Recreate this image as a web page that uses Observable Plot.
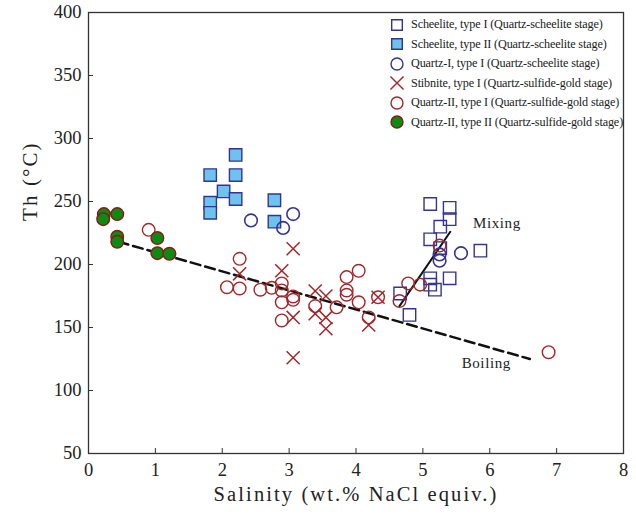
<!DOCTYPE html>
<html>
<head>
<meta charset="utf-8">
<script src="https://cdn.jsdelivr.net/npm/d3@7"></script>
<script src="https://cdn.jsdelivr.net/npm/@observablehq/plot@0.6"></script>
<style>
  body { margin: 0; background: #fff; }
  #wrap { position: relative; width: 636px; height: 514px; background: #fff; }
  #wrap svg, #wrap svg text { font-family: "Liberation Serif", "Times New Roman", serif !important; }
  #legend { position: absolute; left: 390px; top: 15px; font-family: "Liberation Serif", serif; font-size: 12.2px; letter-spacing: -0.15px; color: #222; }
  #legend .row { height: 19.5px; display: flex; align-items: center; white-space: nowrap; }
  #legend svg { margin-right: 7px; overflow: visible; }
  .lbl { letter-spacing: 2.1px; }
  .ann { letter-spacing: 0.6px; }
</style>
</head>
<body>
<div id="wrap"></div>
<script>
// ---- data (salinity wt.% NaCl equiv., Th °C) ----
const scheeliteI = [[5.11,248],[5.40,245],[5.40,236],[5.26,230],[5.11,220],[5.26,213],[5.86,211],[5.40,189],[5.11,189],[5.11,184],[5.18,180],[4.66,177],[4.80,160]];
const scheeliteII = [[2.20,287],[1.82,271],[2.20,271],[2.02,258],[2.20,252],[1.82,249],[1.82,241],[2.78,251],[2.78,234]];
const quartzI = [[2.43,235],[2.91,229],[3.06,240],[5.57,209],[5.25,208],[5.25,203]];
const stibnite = [[3.06,212.5],[2.89,195],[2.26,192.6],[3.06,158],[3.06,126],[3.39,179],[3.55,175],[3.39,161],[3.55,158],[3.55,149],[4.19,152],[4.33,174]];
const quartzIIa = [[0.90,227.5],[2.26,204.5],[2.07,182],[2.26,181],[2.57,180],[2.74,181.5],[2.89,185],[2.89,179.4],[2.89,170],[2.89,155.6],[3.06,174.6],[3.06,172],[3.39,167],[3.71,166],[3.86,190],[4.04,195],[3.86,179.4],[3.86,176],[4.04,170],[4.19,158],[4.33,174],[4.78,185],[4.96,184],[4.65,171],[5.25,215],[6.88,130.4]];
const quartzIIb = [[0.23,240],[0.22,236],[0.43,240],[0.43,222],[0.43,218],[1.03,221],[1.03,209],[1.21,208.5]];
const mixingLine = [[4.65,167],[5.41,226]];
const boilingLine = [[0.45,218],[6.6,125]];
const annotations = [{x:5.75, y:233, text:"Mixing"},{x:5.58, y:122, text:"Boiling"}];
const xTicks = [0,1,2,3,4,5,6,7,8];
const yTicks = [50,100,150,200,250,300,350,400];
const xLabel = "Salinity (wt.% NaCl equiv.)";
const yLabel = "Th (°C)";
const legendLabels = [
  "Scheelite, type I (Quartz-scheelite stage)",
  "Scheelite, type II (Quartz-scheelite stage)",
  "Quartz-I, type I (Quartz-scheelite stage)",
  "Stibnite, type I (Quartz-sulfide-gold stage)",
  "Quartz-II, type I (Quartz-sulfide-gold stage)",
  "Quartz-II, type II (Quartz-sulfide-gold stage)"
];

const BLUE = "#35358f", LIGHT = "#6ec3ee", RED = "#a3262a", GREEN = "#0d8a12";

const chart = Plot.plot({
  width: 636, height: 514,
  marginLeft: 88, marginRight: 13, marginTop: 12, marginBottom: 61,
  style: { fontFamily: "'Liberation Serif', serif", fontSize: "18.5px", color: "#222", background: "#fff" },
  x: { domain: [0, 8] },
  y: { domain: [50, 400] },
  marks: [
    Plot.axisX({ ticks: xTicks, tickSize: -5, tickPadding: 14, tickFormat: d => d, label: null, stroke: "#333" }),
    Plot.axisY({ ticks: yTicks, tickSize: -5, tickPadding: 12, tickFormat: d => d, label: null, stroke: "#333" }),
    Plot.text([xLabel], { text: d => d, frameAnchor: "bottom", dy: 47, fontSize: 20.5, fill: "#222", className: "lbl" }),
    Plot.text([yLabel], { text: d => d, frameAnchor: "left", dx: -58, dy: -12, rotate: -90, fontSize: 21, fill: "#222", className: "lbl" }),
    Plot.line(boilingLine, { x: d => d[0], y: d => d[1], stroke: "#111", strokeWidth: 2.5, strokeDasharray: "10,5" }),
    Plot.line(mixingLine, { x: d => d[0], y: d => d[1], stroke: "#111", strokeWidth: 2 }),
    Plot.dot(scheeliteI, { x: d => d[0], y: d => d[1], symbol: "square", r: 7, stroke: BLUE, strokeWidth: 1.4, fill: "none" }),
    Plot.dot(scheeliteII, { x: d => d[0], y: d => d[1], symbol: "square", r: 7, stroke: BLUE, strokeWidth: 1.4, fill: LIGHT }),
    Plot.dot(quartzI, { x: d => d[0], y: d => d[1], symbol: "circle", r: 6.3, stroke: BLUE, strokeWidth: 1.6, fill: "none" }),
    Plot.dot(stibnite, { x: d => d[0], y: d => d[1], symbol: "times", r: 6, stroke: RED, strokeWidth: 1.5 }),
    Plot.dot(quartzIIa, { x: d => d[0], y: d => d[1], symbol: "circle", r: 6.3, stroke: RED, strokeWidth: 1.4, fill: "none" }),
    Plot.dot(quartzIIb, { x: d => d[0], y: d => d[1], symbol: "circle", r: 6.3, stroke: "#8a1a1a", strokeWidth: 1.4, fill: GREEN }),
    Plot.text(annotations, { x: "x", y: "y", text: "text", textAnchor: "start", fontSize: 15, fill: "#222", className: "ann" }),
    Plot.frame({ stroke: "#333", strokeWidth: 1.3 })
  ]
});

const wrap = document.getElementById("wrap");
wrap.appendChild(chart);

// legend overlay (inside plot area, top right)
const symbols = [
  { sym: "square", stroke: BLUE, fill: "none" },
  { sym: "square", stroke: BLUE, fill: LIGHT },
  { sym: "circle", stroke: BLUE, fill: "none" },
  { sym: "times", stroke: RED, fill: "none" },
  { sym: "circle", stroke: RED, fill: "none" },
  { sym: "circle", stroke: "#8a1a1a", fill: GREEN }
];
const legend = document.createElement("div");
legend.id = "legend";
legendLabels.forEach((lab, i) => {
  const row = document.createElement("div");
  row.className = "row";
  const s = symbols[i];
  const map = { square: d3.symbolSquare, circle: d3.symbolCircle, times: d3.symbolTimes };
  const path = d3.symbol(map[s.sym], Math.PI * 36)();
  row.innerHTML = `<svg width="14" height="14" viewBox="-7 -7 14 14"><path d="${path}" stroke="${s.stroke}" stroke-width="1.4" fill="${s.fill}"/></svg><span>${lab}</span>`;
  legend.appendChild(row);
});
wrap.appendChild(legend);
</script>
</body>
</html>
